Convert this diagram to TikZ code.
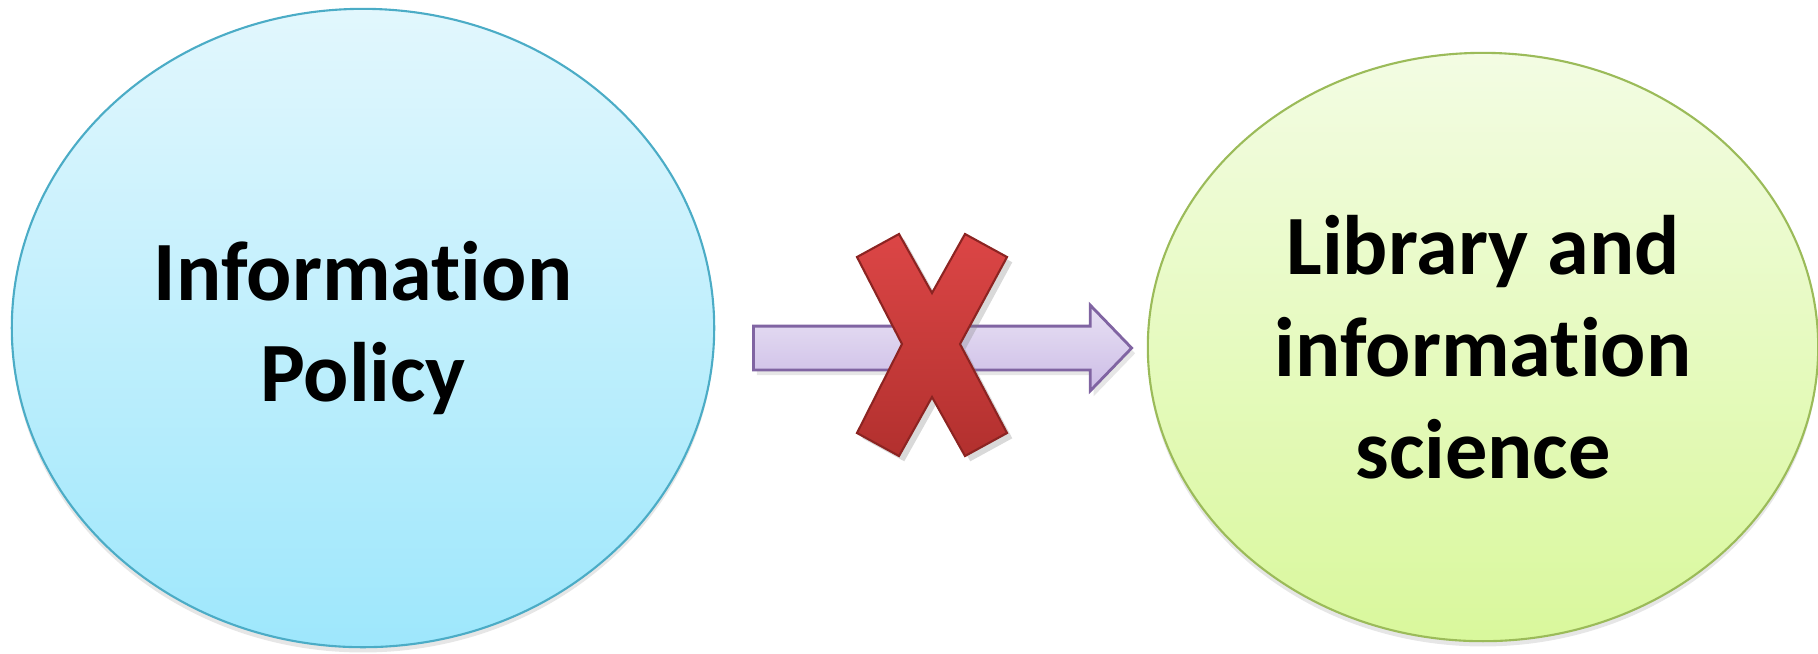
\documentclass[tikz,border=0pt]{standalone}
\usepackage{fontspec}
\setmainfont{Carlito}[Ligatures=NoCommon]
\usetikzlibrary{shapes.geometric,shapes.arrows,shadows}

\definecolor{policyTop}{HTML}{E2F7FD}
\definecolor{policyBot}{HTML}{9EE7FC}
\definecolor{policyLine}{HTML}{4BACC6}
\definecolor{libTop}{HTML}{F3FCE3}
\definecolor{libBot}{HTML}{D9F89C}
\definecolor{libLine}{HTML}{9BBB59}
\definecolor{arrowTop}{HTML}{E8E1F4}
\definecolor{arrowBot}{HTML}{CCBCE6}
\definecolor{arrowLine}{HTML}{8064A2}
\definecolor{crossTop}{HTML}{DC4646}
\definecolor{crossBot}{HTML}{B2302E}
\definecolor{crossLine}{HTML}{8C2422}

\tikzset{
  bubble/.style={ellipse, inner sep=0pt, align=center,
    font=\fontsize{24}{29}\selectfont\bfseries, line width=0.6pt,
    drop shadow={opacity=0.2, shadow xshift=0pt, shadow yshift=-1.5pt}},
  blockarrow/.style={single arrow, draw=arrowLine, line width=0.8pt,
    top color=arrowTop, bottom color=arrowBot, inner xsep=0pt, inner ysep=0.205cm,
    single arrow head extend=0.21cm, single arrow tip angle=92,
    single arrow head indent=0pt, minimum height=3.78cm,
    drop shadow={opacity=0.2, shadow xshift=1pt, shadow yshift=-1.5pt}},
  cross/.style={draw=crossLine, line width=0.6pt, line join=miter,
    top color=crossTop, bottom color=crossBot,
    drop shadow={opacity=0.3, shadow xshift=1.5pt, shadow yshift=-1.5pt}}
}

\begin{document}
\begin{tikzpicture}[x=0.01cm, y=-0.01cm]
    \useasboundingbox (0,0) rectangle (1818,653);
    % draw the two bubbles
    \node[bubble, draw=policyLine, top color=policyTop, bottom color=policyBot,
      minimum width=7.02cm, minimum height=6.38cm] (policy) at (363,328)
      {Information\\Policy};
    \node[bubble, draw=libLine, top color=libTop, bottom color=libBot,
      minimum width=6.70cm, minimum height=5.88cm] (library) at (1483,347)
      {Library and\\information\\science};
    % draw the arrow
    \node[blockarrow, anchor=tail] (link) at (752,348) {};
    % define the corners of the cross.
    \def\a{(899,234)}
    \def\b{(932,293)}
    \def\c{(965,234)}
    \def\d{(1007,257)}
    \def\e{(960,344)}
    \def\f{(1007,433)}
    \def\g{(965,456)}
    \def\h{(932,397)}
    \def\i{(899,456)}
    \def\j{(857,433)}
    \def\k{(902,344)}
    \def\l{(857,257)}
    % draw the cross
    \path[cross] \a -- \b -- \c -- \d -- \e -- \f -- \g -- \h -- \i -- \j -- \k -- \l -- cycle;
\end{tikzpicture}
\end{document}
